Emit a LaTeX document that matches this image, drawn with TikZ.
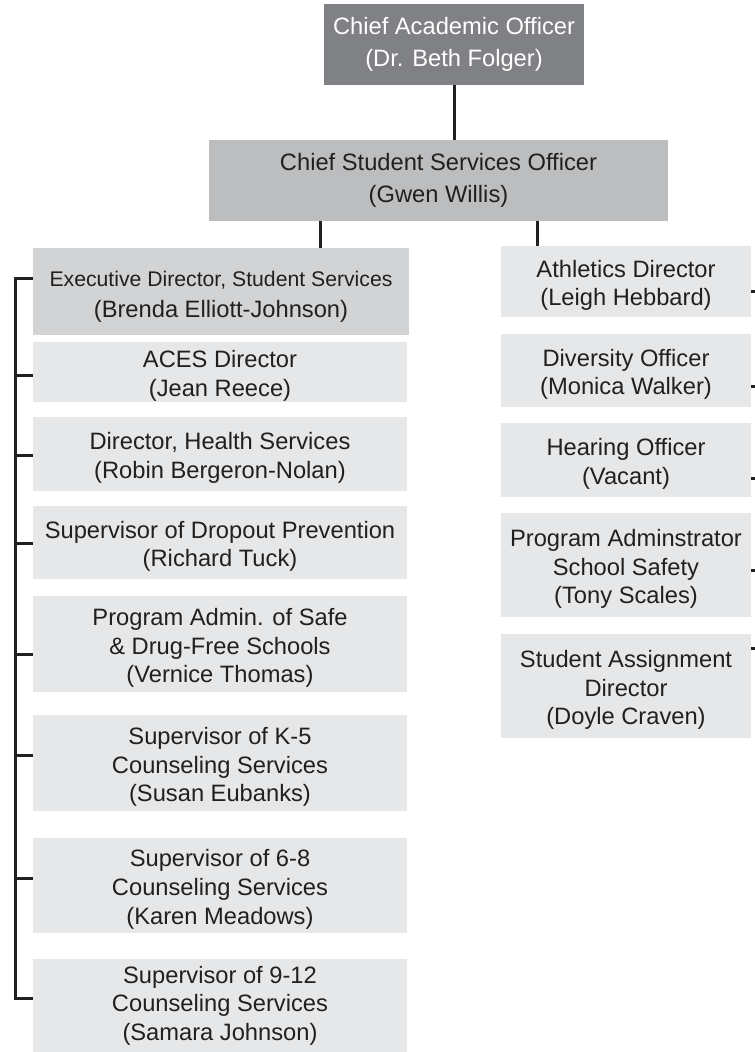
\documentclass[tikz,border=0pt]{standalone}
\usepackage{fontspec}
\setmainfont{Liberation Sans}
\definecolor{ink}{HTML}{231F20}
\definecolor{caofill}{HTML}{808184}
\definecolor{cssofill}{HTML}{BCBDBF}
\definecolor{execfill}{HTML}{D1D3D4}
\definecolor{boxfill}{HTML}{E6E7E8}
\newcommand\firstln{\rule{0pt}{25bp}}
\begin{document}
\begin{tikzpicture}[x=1bp,y=-1bp,
  box/.style={rectangle, inner sep=0pt, align=center, text=ink,
    font=\fontsize{23.7bp}{28.6bp}\selectfont},
  topbox/.style={box, font=\fontsize{23.7bp}{32bp}\selectfont},
  leftbox/.style={box, fill=boxfill, minimum width=374bp},
  rightbox/.style={box, fill=boxfill, minimum width=250bp},
  link/.style={draw=ink, line width=3bp}]
\useasboundingbox (0,0) rectangle (755,1052);

% top
\node[topbox, fill=caofill, text=white, minimum width=260bp, minimum height=81bp] (cao) at (454,44.5)
  {Chief Academic Officer\\(Dr. Beth Folger)};
\node[topbox, fill=cssofill, minimum width=459bp, minimum height=81bp] (csso) at (438.5,180.5)
  {Chief Student Services Officer\\(Gwen Willis)};

% left column
\node[box, fill=execfill, minimum width=376bp, minimum height=87bp, font=\fontsize{23.7bp}{31bp}\selectfont] (exec) at (221,291.5)
  {{\fontsize{21.2bp}{25bp}\selectfont\firstln Executive Director, Student Services}\\(Brenda Elliott-Johnson)};
\node[leftbox, minimum height=60bp] (aces) at (220,372) {\firstln ACES Director\\(Jean Reece)};
\node[leftbox, minimum height=74bp] (health) at (220,454) {\firstln Director, Health Services\\(Robin Bergeron-Nolan)};
\node[leftbox, minimum height=73bp] (dropout) at (220,542.5) {\firstln Supervisor of Dropout Prevention\\(Richard Tuck)};
\node[leftbox, minimum height=96bp] (safe) at (220,644) {\firstln Program Admin. of Safe\\\& Drug-Free Schools\\(Vernice Thomas)};
\node[leftbox, minimum height=96bp] (kfive) at (220,763) {\firstln Supervisor of K-5\\Counseling Services\\(Susan Eubanks)};
\node[leftbox, minimum height=95bp] (mid) at (220,885.5) {\firstln Supervisor of 6-8\\Counseling Services\\(Karen Meadows)};
\node[leftbox, minimum height=93bp] (high) at (220,1005.5) {Supervisor of 9-12\\Counseling Services\\(Samara Johnson)};

% right column
\node[rightbox, minimum height=71bp] (ath) at (626,281.5) {\firstln Athletics Director\\(Leigh Hebbard)};
\node[rightbox, minimum height=73bp] (div) at (626,370.5) {\firstln Diversity Officer\\(Monica Walker)};
\node[rightbox, minimum height=74bp] (hear) at (626,460) {\firstln Hearing Officer\\(Vacant)};
\node[rightbox, minimum height=104bp] (prog) at (626,565) {\firstln Program Adminstrator\\School Safety\\(Tony Scales)};
\node[rightbox, minimum height=104bp] (stud) at (626,686) {\firstln Student Assignment\\Director\\(Doyle Craven)};

% connectors from the top
\draw[link] (cao.south) -- (csso.north -| cao.south);
\coordinate (jl) at (320,0);
\coordinate (jr) at (537,0);
\draw[link] (csso.south -| jl) -- (exec.north -| jl);
\draw[link] (csso.south -| jr) -- (ath.north -| jr);

% left bracket
\coordinate (s1) at (15,278);
\coordinate (s2) at (15,375);
\coordinate (s3) at (15,455);
\coordinate (s4) at (15,543);
\coordinate (s5) at (15,654);
\coordinate (s6) at (15,755);
\coordinate (s7) at (15,878);
\coordinate (s8) at (15,998);
\draw[link] (exec.west |- s1) -- (s1) -- (s8) -- (high.west |- s8);
\draw[link] (s2) -- (aces.west |- s2);
\draw[link] (s3) -- (health.west |- s3);
\draw[link] (s4) -- (dropout.west |- s4);
\draw[link] (s5) -- (safe.west |- s5);
\draw[link] (s6) -- (kfive.west |- s6);
\draw[link] (s7) -- (mid.west |- s7);

% right stubs
\coordinate (r1) at (755,291);
\coordinate (r2) at (755,386);
\coordinate (r3) at (755,478);
\coordinate (r4) at (755,570);
\coordinate (r5) at (755,648);
\draw[link] (ath.east |- r1) -- (r1);
\draw[link] (div.east |- r2) -- (r2);
\draw[link] (hear.east |- r3) -- (r3);
\draw[link] (prog.east |- r4) -- (r4);
\draw[link] (stud.east |- r5) -- (r5);
\end{tikzpicture}
\end{document}
